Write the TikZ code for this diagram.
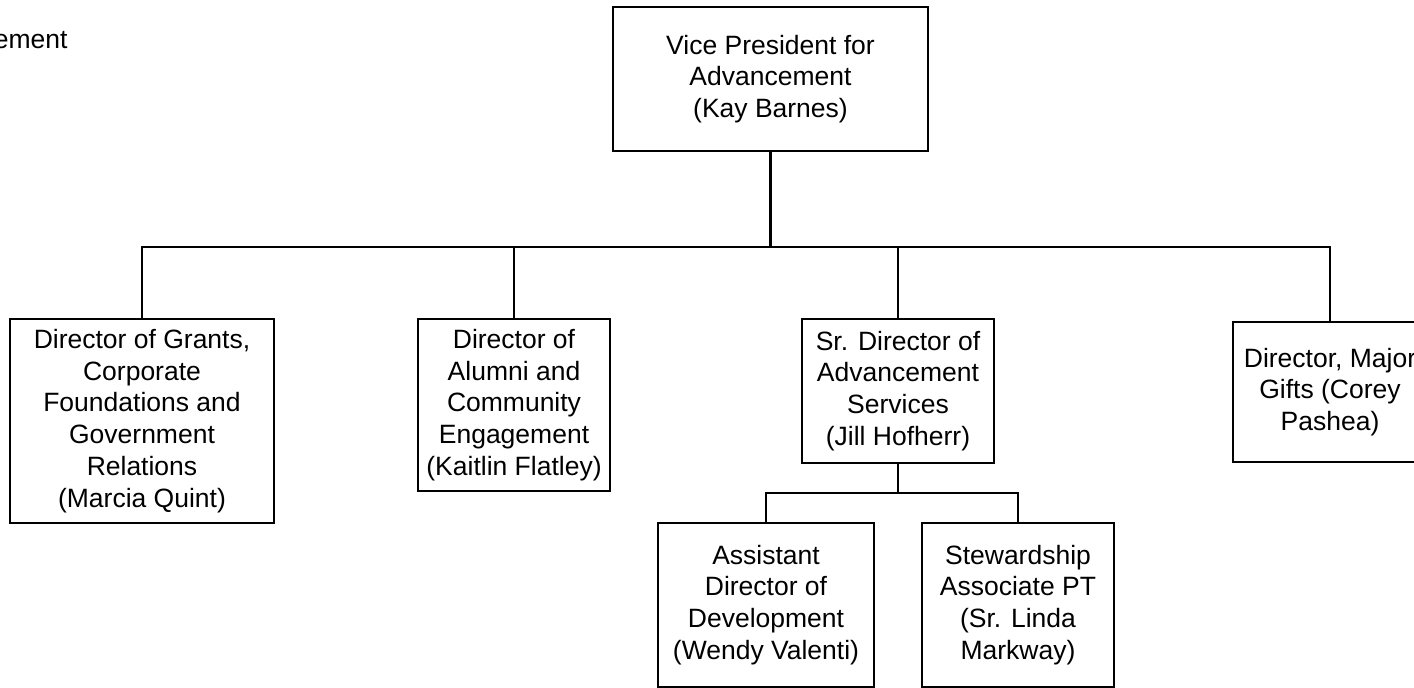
\documentclass[tikz,border=0pt]{standalone}
\usepackage{fontspec}
\setmainfont{Liberation Sans}
\usetikzlibrary{positioning}
\tikzset{main node/.style={rectangle,draw,line width=2.2pt,inner sep=0pt,outer sep=0pt,align=center}}

\begin{document}
\begin{tikzpicture}[x=1pt, y=-1pt, on grid, line width=2.2pt,
    font=\fontsize{26.5}{31.8}\selectfont]
      \useasboundingbox (0,0) rectangle (1414,688);
      \clip (0,0) rectangle (1414,688);
      \node[anchor=base east] (title) at (72,48) {ement};
      \node[main node, minimum width=315pt, minimum height=144pt] (vp) at (770.5,79) {Vice President for\\Advancement\\(Kay Barnes)};
      \node[main node, minimum width=264pt, minimum height=204pt] (grants) [below left = 342pt and 628.5pt of vp] {Director of Grants,\\Corporate\\Foundations and\\Government\\Relations\\(Marcia Quint)};
      \node[main node, minimum width=192pt, minimum height=172pt] (alumni) [below left = 326pt and 256.5pt of vp] {Director of\\Alumni and\\Community\\Engagement\\(Kaitlin Flatley)};
      \node[main node, minimum width=192pt, minimum height=144pt] (services) [below right = 312pt and 127.5pt of vp] {Sr. Director of\\Advancement\\Services\\(Jill Hofherr)};
      \node[main node, minimum width=194pt, minimum height=140pt] (gifts) [below right = 313pt and 559.5pt of vp] {Director, Major\\Gifts (Corey\\Pashea)};
      \node[main node, minimum width=216pt, minimum height=164pt] (asst) [below left = 214pt and 132pt of services] {Assistant\\Director of\\Development\\(Wendy Valenti)};
      \node[main node, minimum width=192pt, minimum height=164pt] (steward) [below right = 214pt and 120pt of services] {Stewardship\\Associate PT\\(Sr. Linda\\Markway)};
      \coordinate (bus) at (770.5,247);
      \coordinate (sbus) at (898,493);
      \draw[-] (vp.south) -- (bus);
      \draw[-] (grants.north) |- (bus) -| (gifts.north);
      \draw[-] (alumni.north) -- (alumni.north |- bus);
      \draw[-] (services.north) -- (services.north |- bus);
      \draw[-] (services.south) -- (sbus);
      \draw[-] (asst.north) |- (sbus) -| (steward.north);
    \end{tikzpicture}
\end{document}
